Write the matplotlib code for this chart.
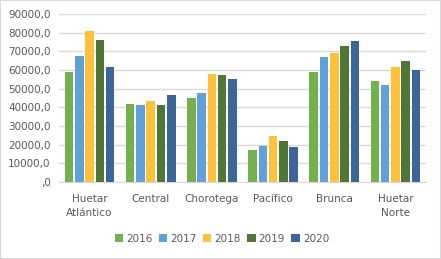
import matplotlib
matplotlib.use('Agg')
import matplotlib.pyplot as plt
import numpy as np
from matplotlib.patches import Rectangle

# data
regions = ['Huetar\nAtlántico', 'Central', 'Chorotega', 'Pacífico', 'Brunca', 'Huetar\nNorte']
years = ['2016', '2017', '2018', '2019', '2020']
v2016 = [59000, 41800, 45200, 17100, 58900, 54100]
v2017 = [67500, 41300, 47700, 19400, 67000, 52000]
v2018 = [80900, 43400, 58000, 24600, 69100, 61600]
v2019 = [76100, 41300, 57200, 22000, 72800, 64800]
v2020 = [61600, 46600, 55200, 18700, 75500, 60000]
series = [v2016, v2017, v2018, v2019, v2020]
colors = ['#74B04E', '#62A0D9', '#FFC13B', '#4F7637', '#3B6697']

grey = '#595959'
fig = plt.figure(figsize=(4.41, 2.59), dpi=100)
ax = fig.add_axes([59 / 441, 1 - 182 / 259, 367 / 441, 168 / 259])

x = np.arange(len(regions))
step = 0.168
width = 0.14
for i, (vals, c) in enumerate(zip(series, colors)):
    ax.bar(x + (i - 2) * step, vals, width=width, color=c, label=years[i], zorder=3)

ax.set_xlim(-0.5, len(regions) - 0.5)
ax.set_ylim(0, 90000)
yt = np.arange(0, 90001, 10000)
ax.set_yticks(yt)
ax.set_yticklabels([',0' if v == 0 else f'{v},0' for v in yt])
ax.set_xticks(x)
ax.set_xticklabels(regions, linespacing=1.45)
ax.yaxis.grid(True, color='#D9D9D9', linewidth=1, zorder=0)
for s in ['top', 'right', 'left']:
    ax.spines[s].set_visible(False)
ax.spines['bottom'].set_color('#D9D9D9')
ax.tick_params(axis='both', length=0, colors=grey, labelsize=7.5)
ax.tick_params(axis='y', pad=6)
ax.tick_params(axis='x', pad=9)

fig.legend(loc='center', bbox_to_anchor=(222 / 441, 1 - 239 / 259), ncol=5, frameon=False,
           fontsize=7.5, handlelength=0.8, handleheight=0.8, handletextpad=0.3,
           columnspacing=0.6, labelcolor=grey)

fig.patches.append(Rectangle((0, 0), 1, 1, transform=fig.transFigure, fill=False,
                             edgecolor='#D9D9D9', linewidth=1.5))

fig.savefig('out.png', dpi=100)
